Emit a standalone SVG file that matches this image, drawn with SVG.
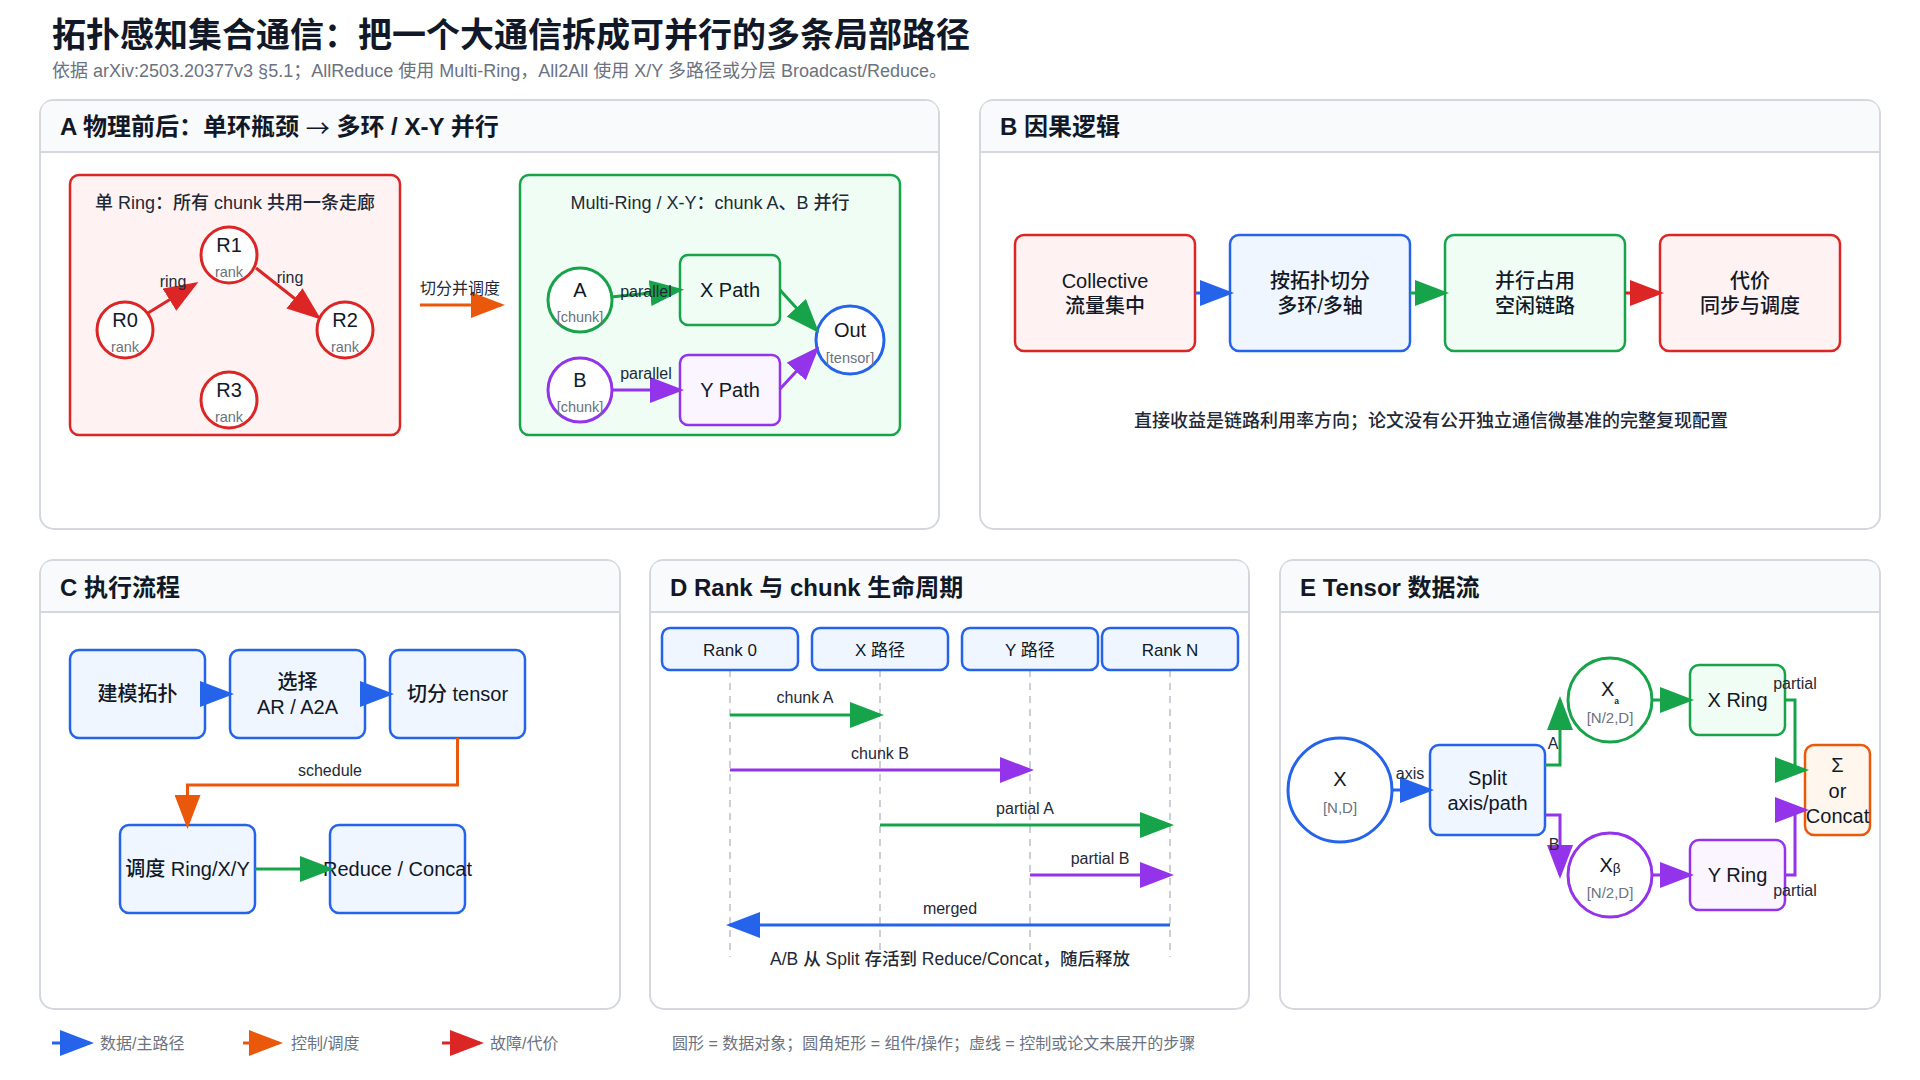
<svg xmlns="http://www.w3.org/2000/svg" width="1920" height="1080" viewBox="0 0 1920 1080">
<defs>
<style>
text{font-family:'Liberation Sans','Noto Sans CJK SC',sans-serif;fill:#111827}
.panel{fill:#fff;stroke:#d4d8de;stroke-width:2}
.hdr{fill:#f8fafc}
.hdrline{stroke:#d4d8de;stroke-width:2}
.pt{font-size:24px;font-weight:700;dominant-baseline:central}
.t{text-anchor:middle;dominant-baseline:central;font-size:20px;font-weight:500}
.t19{text-anchor:middle;dominant-baseline:central;font-size:20px;font-weight:500}
.sub{text-anchor:middle;dominant-baseline:central;font-size:14.5px;fill:#6b7280}
.lb{text-anchor:middle;dominant-baseline:central;font-size:16px;fill:#1f2937}
.cap{text-anchor:middle;dominant-baseline:central;font-size:18px;font-weight:500;fill:#1f2937}
.leg{dominant-baseline:central;font-size:16px;fill:#6b7280}
.blue{fill:#eff6ff;stroke:#2563eb;stroke-width:2.5}
.green{fill:#f0fdf4;stroke:#16a34a;stroke-width:2.5}
.purple{fill:#faf5ff;stroke:#9333ea;stroke-width:2.5}
.red{fill:#fef2f2;stroke:#dc2626;stroke-width:2.5}
.orange{fill:#fff7ed;stroke:#ea580c;stroke-width:2.5}
.cred{fill:#fff;stroke:#dc2626;stroke-width:3}
.cgreen{fill:#fff;stroke:#16a34a;stroke-width:3}
.cpurple{fill:#fff;stroke:#9333ea;stroke-width:3}
.cblue{fill:#fff;stroke:#2563eb;stroke-width:3}
.e{fill:none;stroke-width:3}
.eb{stroke:#2563eb;marker-end:url(#ab)}
.eg{stroke:#16a34a;marker-end:url(#ag)}
.ep{stroke:#9333ea;marker-end:url(#ap)}
.eo{stroke:#ea580c;marker-end:url(#ao)}
.er{stroke:#dc2626;marker-end:url(#ar)}
.life{stroke:#cbd0d8;stroke-width:2;stroke-dasharray:7 6}
</style>
<marker id="ab" markerUnits="userSpaceOnUse" viewBox="0 0 34 26" markerWidth="34" markerHeight="26" refX="30" refY="13" orient="auto"><path d="M0,0 L34,13 L0,26 z" fill="#2563eb"/></marker>
<marker id="ag" markerUnits="userSpaceOnUse" viewBox="0 0 34 26" markerWidth="34" markerHeight="26" refX="30" refY="13" orient="auto"><path d="M0,0 L34,13 L0,26 z" fill="#16a34a"/></marker>
<marker id="ap" markerUnits="userSpaceOnUse" viewBox="0 0 34 26" markerWidth="34" markerHeight="26" refX="30" refY="13" orient="auto"><path d="M0,0 L34,13 L0,26 z" fill="#9333ea"/></marker>
<marker id="ao" markerUnits="userSpaceOnUse" viewBox="0 0 34 26" markerWidth="34" markerHeight="26" refX="30" refY="13" orient="auto"><path d="M0,0 L34,13 L0,26 z" fill="#ea580c"/></marker>
<marker id="ar" markerUnits="userSpaceOnUse" viewBox="0 0 34 26" markerWidth="34" markerHeight="26" refX="30" refY="13" orient="auto"><path d="M0,0 L34,13 L0,26 z" fill="#dc2626"/></marker>
</defs>
<rect width="1920" height="1080" fill="#fff"/>

<text x="52" y="47" font-size="34" font-weight="700">拓扑感知集合通信：把一个大通信拆成可并行的多条局部路径</text>
<text x="52" y="77" font-size="18" style="fill:#6b7280">依据 arXiv:2503.20377v3 §5.1；AllReduce 使用 Multi-Ring，All2All 使用 X/Y 多路径或分层 Broadcast/Reduce。</text>

<!-- Panels -->
<g id="panel-A">
<rect class="panel" x="40" y="100" width="899" height="429" rx="14"/>
<path class="hdr" d="M41,152 V114 Q41,101 54,101 H925 Q938,101 938,114 V152 Z"/>
<line class="hdrline" x1="41" y1="152" x2="938" y2="152"/>
<text class="pt" x="60" y="126">A 物理前后：单环瓶颈 <tspan style="font-family:'Noto Sans CJK SC',sans-serif;font-weight:400">→</tspan> 多环 / X-Y 并行</text>
</g>
<g id="panel-B">
<rect class="panel" x="980" y="100" width="900" height="429" rx="14"/>
<path class="hdr" d="M981,152 V114 Q981,101 994,101 H1866 Q1879,101 1879,114 V152 Z"/>
<line class="hdrline" x1="981" y1="152" x2="1879" y2="152"/>
<text class="pt" x="1000" y="126">B 因果逻辑</text>
</g>
<g id="panel-C">
<rect class="panel" x="40" y="560" width="580" height="449" rx="14"/>
<path class="hdr" d="M41,612 V574 Q41,561 54,561 H606 Q619,561 619,574 V612 Z"/>
<line class="hdrline" x1="41" y1="612" x2="619" y2="612"/>
<text class="pt" x="60" y="587">C 执行流程</text>
</g>
<g id="panel-D">
<rect class="panel" x="650" y="560" width="599" height="449" rx="14"/>
<path class="hdr" d="M651,612 V574 Q651,561 664,561 H1235 Q1248,561 1248,574 V612 Z"/>
<line class="hdrline" x1="651" y1="612" x2="1248" y2="612"/>
<text class="pt" x="670" y="587">D Rank 与 chunk 生命周期</text>
</g>
<g id="panel-E">
<rect class="panel" x="1280" y="560" width="600" height="449" rx="14"/>
<path class="hdr" d="M1281,612 V574 Q1281,561 1294,561 H1866 Q1879,561 1879,574 V612 Z"/>
<line class="hdrline" x1="1281" y1="612" x2="1879" y2="612"/>
<text class="pt" x="1300" y="587">E Tensor 数据流</text>
</g>

<!-- Panel A groups -->
<g id="A-single">
<rect class="red" x="70" y="175" width="330" height="260" rx="9"/>
<text class="cap" x="235" y="203">单 Ring：所有 chunk 共用一条走廊</text>
</g>
<g id="A-multi">
<rect class="green" x="520" y="175" width="380" height="260" rx="9"/>
<text class="cap" x="710" y="203">Multi-Ring / X-Y：chunk A、B 并行</text>
</g>
<g id="R1"><circle class="cred" cx="229" cy="255" r="28"/><text class="t19" x="229" y="245">R1</text><text class="sub" x="229" y="272">rank</text></g>
<g id="R0"><circle class="cred" cx="125" cy="330" r="28"/><text class="t19" x="125" y="320">R0</text><text class="sub" x="125" y="347">rank</text></g>
<g id="R2"><circle class="cred" cx="345" cy="330" r="28"/><text class="t19" x="345" y="320">R2</text><text class="sub" x="345" y="347">rank</text></g>
<g id="R3"><circle class="cred" cx="229" cy="400" r="28"/><text class="t19" x="229" y="390">R3</text><text class="sub" x="229" y="417">rank</text></g>
<g id="chunkA"><circle class="cgreen" cx="580" cy="300" r="32"/><text class="t19" x="580" y="290">A</text><text class="sub" x="580" y="317">[chunk]</text></g>
<g id="chunkB"><circle class="cpurple" cx="580" cy="390" r="32"/><text class="t19" x="580" y="380">B</text><text class="sub" x="580" y="407">[chunk]</text></g>
<g id="XPath"><rect class="green" x="680" y="255" width="100" height="70" rx="8"/><text class="t19" x="730" y="290">X Path</text></g>
<g id="YPath"><rect class="purple" x="680" y="355" width="100" height="70" rx="8"/><text class="t19" x="730" y="390">Y Path</text></g>
<g id="Out"><circle class="cblue" cx="850" cy="340" r="34"/><text class="t19" x="850" y="330">Out</text><text class="sub" x="850" y="358">[tensor]</text></g>

<!-- Panel B -->
<g id="B1"><rect class="red" x="1015" y="235" width="180" height="116" rx="9"/><text class="t" x="1105" y="281">Collective</text><text class="t" x="1105" y="306">流量集中</text></g>
<g id="B2"><rect class="blue" x="1230" y="235" width="180" height="116" rx="9"/><text class="t" x="1320" y="281">按拓扑切分</text><text class="t" x="1320" y="306">多环/多轴</text></g>
<g id="B3"><rect class="green" x="1445" y="235" width="180" height="116" rx="9"/><text class="t" x="1535" y="281">并行占用</text><text class="t" x="1535" y="306">空闲链路</text></g>
<g id="B4"><rect class="red" x="1660" y="235" width="180" height="116" rx="9"/><text class="t" x="1750" y="281">代价</text><text class="t" x="1750" y="306">同步与调度</text></g>
<text class="cap" x="1431" y="421">直接收益是链路利用率方向；论文没有公开独立通信微基准的完整复现配置</text>

<!-- Panel C -->
<g id="C1"><rect class="blue" x="70" y="650" width="135" height="88" rx="9"/><text class="t" x="137.5" y="694">建模拓扑</text></g>
<g id="C2"><rect class="blue" x="230" y="650" width="135" height="88" rx="9"/><text class="t" x="297.5" y="682">选择</text><text class="t" x="297.5" y="707">AR / A2A</text></g>
<g id="C3"><rect class="blue" x="390" y="650" width="135" height="88" rx="9"/><text class="t" x="457.5" y="694">切分 tensor</text></g>
<g id="C4"><rect class="blue" x="120" y="825" width="135" height="88" rx="9"/><text class="t" x="187.5" y="869">调度 Ring/X/Y</text></g>
<g id="C5"><rect class="blue" x="330" y="825" width="135" height="88" rx="9"/><text class="t" x="397.5" y="869">Reduce / Concat</text></g>

<!-- Panel D -->
<g id="D-lifelines">
<line class="life" x1="730" y1="670" x2="730" y2="957"/>
<line class="life" x1="880" y1="670" x2="880" y2="957"/>
<line class="life" x1="1030" y1="670" x2="1030" y2="957"/>
<line class="life" x1="1170" y1="670" x2="1170" y2="957"/>
</g>
<g id="D-rank0"><rect class="blue" x="662" y="628" width="136" height="42" rx="8"/><text class="t" x="730" y="650" style="font-size:17px;font-weight:400">Rank 0</text></g>
<g id="D-xpath"><rect class="blue" x="812" y="628" width="136" height="42" rx="8"/><text class="t" x="880" y="650" style="font-size:17px;font-weight:400">X 路径</text></g>
<g id="D-ypath"><rect class="blue" x="962" y="628" width="136" height="42" rx="8"/><text class="t" x="1030" y="650" style="font-size:17px;font-weight:400">Y 路径</text></g>
<g id="D-rankN"><rect class="blue" x="1102" y="628" width="136" height="42" rx="8"/><text class="t" x="1170" y="650" style="font-size:17px;font-weight:400">Rank N</text></g>
<text class="cap" x="950" y="959" style="font-size:17.5px">A/B 从 Split 存活到 Reduce/Concat，随后释放</text>

<!-- Panel E -->
<g id="E-X"><circle class="cblue" cx="1340" cy="790" r="52"/><text class="t" x="1340" y="779">X</text><text class="sub" x="1340" y="807" style="font-size:15px">[N,D]</text></g>
<g id="E-Split"><rect class="blue" x="1430" y="745" width="115" height="90" rx="9"/><text class="t" x="1487.5" y="778">Split</text><text class="t" x="1487.5" y="803">axis/path</text></g>
<g id="E-Xa"><circle class="cgreen" cx="1610" cy="700" r="42"/><text class="t" x="1610" y="689">X<tspan dy="10" style="font-size:12px;font-weight:700">ₐ</tspan></text><text class="sub" x="1610" y="717" style="font-size:15px">[N/2,D]</text></g>
<g id="E-Xb"><circle class="cpurple" cx="1610" cy="875" r="42"/><text class="t" x="1610" y="865">Xᵦ</text><text class="sub" x="1610" y="892" style="font-size:15px">[N/2,D]</text></g>
<g id="E-XRing"><rect class="green" x="1690" y="665" width="95" height="70" rx="9"/><text class="t" x="1737.5" y="700">X Ring</text></g>
<g id="E-YRing"><rect class="purple" x="1690" y="840" width="95" height="70" rx="9"/><text class="t" x="1737.5" y="875">Y Ring</text></g>
<g id="E-Sum"><rect class="orange" x="1805" y="745" width="65" height="90" rx="9"/><text class="t" x="1837.5" y="765">Σ</text><text class="t" x="1837.5" y="791">or</text><text class="t" x="1837.5" y="816">Concat</text></g>

<!-- Connectors -->
<g id="connectors">
<line class="e er" x1="148" y1="313" x2="195" y2="284"/>
<line class="e er" x1="256" y1="268" x2="318" y2="317"/>
<line class="e eo" x1="420" y1="305" x2="501" y2="305"/>
<line class="e eg" x1="611" y1="297" x2="680" y2="290"/>
<line class="e ep" x1="612" y1="390" x2="680" y2="390"/>
<line class="e eg" x1="780" y1="290" x2="816.5" y2="330"/>
<line class="e ep" x1="780" y1="389" x2="816.5" y2="349.5"/>

<line class="e eb" x1="1195" y1="293" x2="1230" y2="293"/>
<line class="e eg" x1="1410" y1="293" x2="1445" y2="293"/>
<line class="e er" x1="1625" y1="293" x2="1660" y2="293"/>

<line class="e eb" x1="205" y1="694" x2="230" y2="694"/>
<line class="e eb" x1="365" y1="694" x2="390" y2="694"/>
<path class="e eo" d="M457.5,738 V785 H187.5 V825"/>
<line class="e eg" x1="255" y1="869" x2="330" y2="869"/>

<line class="e eg" x1="730" y1="715" x2="880" y2="715"/>
<line class="e ep" x1="730" y1="770" x2="1030" y2="770"/>
<line class="e eg" x1="880" y1="825" x2="1170" y2="825"/>
<line class="e ep" x1="1030" y1="875" x2="1170" y2="875"/>
<line class="e eb" x1="1170" y1="925" x2="730" y2="925"/>

<line class="e eb" x1="1392" y1="790" x2="1430" y2="790"/>
<path class="e eg" d="M1545,765 H1560 V700"/>
<path class="e ep" d="M1545,815 H1560 V875"/>
<line class="e eg" x1="1652" y1="700" x2="1690" y2="700"/>
<line class="e ep" x1="1652" y1="875" x2="1690" y2="875"/>
<path class="e eg" d="M1785,700 H1795 V770 H1805"/>
<path class="e ep" d="M1785,875 H1795 V810 H1805"/>
</g>

<g id="edge-labels">
<text class="lb" x="173" y="281">ring</text>
<text class="lb" x="290" y="277">ring</text>
<text class="lb" x="460" y="288">切分并调度</text>
<text class="lb" x="646" y="291">parallel</text>
<text class="lb" x="646" y="373">parallel</text>
<text class="lb" x="330" y="770">schedule</text>
<text class="lb" x="805" y="697">chunk A</text>
<text class="lb" x="880" y="753">chunk B</text>
<text class="lb" x="1025" y="808">partial A</text>
<text class="lb" x="1100" y="858">partial B</text>
<text class="lb" x="950" y="908">merged</text>
<text class="lb" x="1410" y="773">axis</text>
<text class="lb" x="1553" y="743">A</text>
<text class="lb" x="1554" y="844">B</text>
<text class="lb" x="1795" y="683">partial</text>
<text class="lb" x="1795" y="890">partial</text>
</g>

<g id="legend">
<line class="e eb" x1="52" y1="1043" x2="90" y2="1043"/>
<text class="leg" x="100" y="1043">数据/主路径</text>
<line class="e eo" x1="243" y1="1043" x2="279" y2="1043"/>
<text class="leg" x="291" y="1043">控制/调度</text>
<line class="e er" x1="442" y1="1043" x2="480" y2="1043"/>
<text class="leg" x="490" y="1043">故障/代价</text>
<text class="leg" x="672" y="1043">圆形 = 数据对象；圆角矩形 = 组件/操作；虚线 = 控制或论文未展开的步骤</text>
</g>
</svg>
